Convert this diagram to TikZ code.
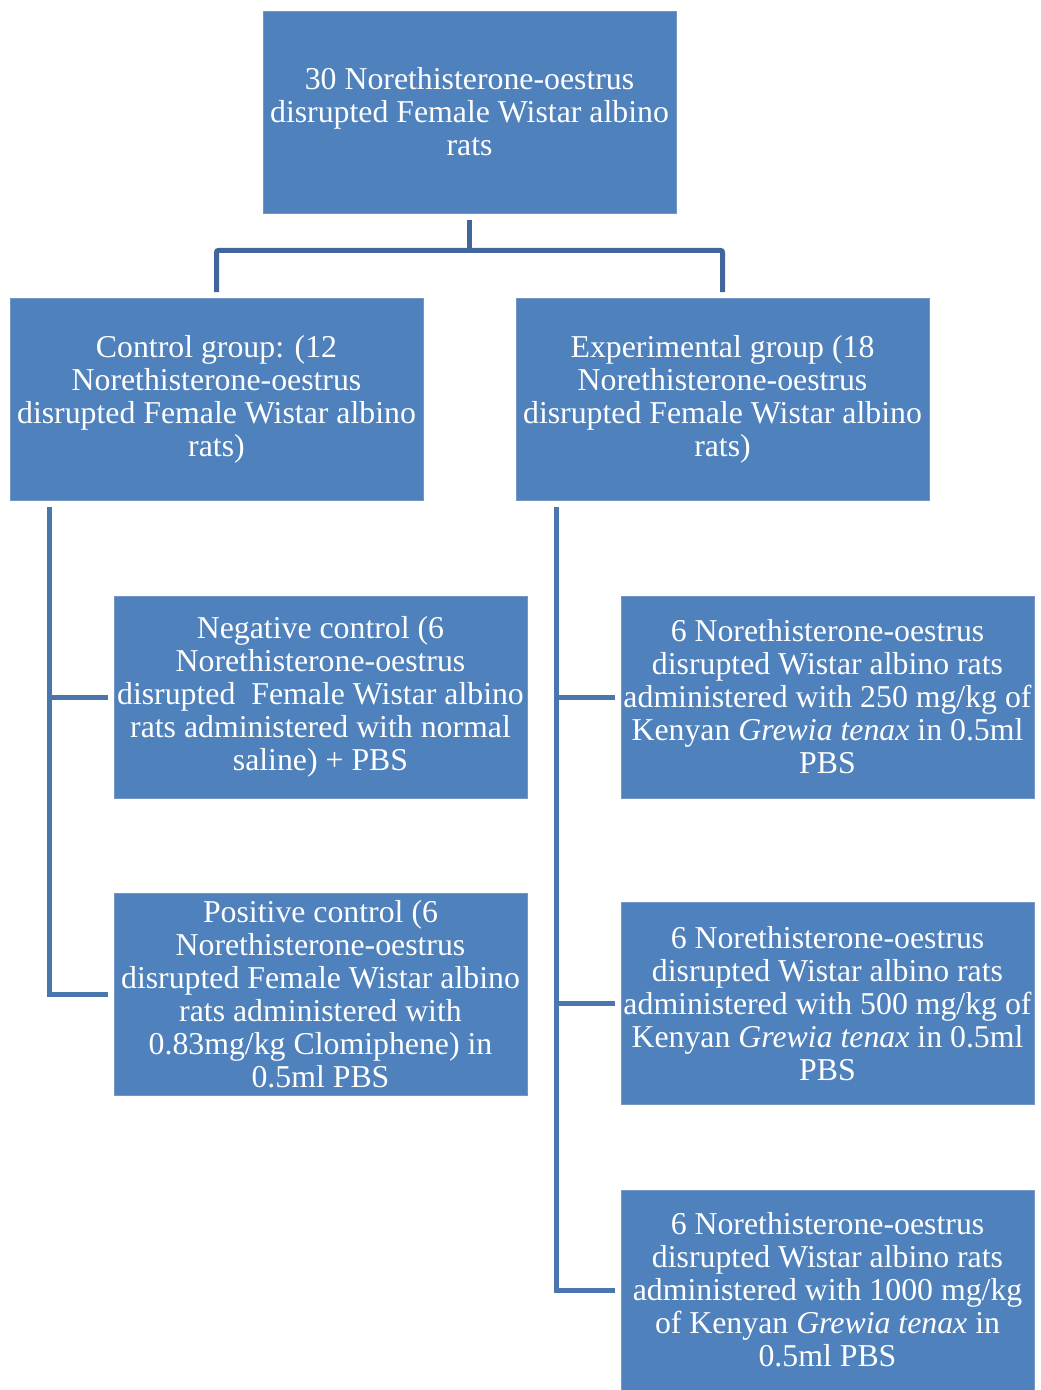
\documentclass[tikz,border=0pt]{standalone}
\usepackage{fontspec}
\setmainfont{Liberation Serif}
\definecolor{boxblue}{HTML}{4F81BD}
\definecolor{boxedge}{HTML}{7396C6}
\definecolor{treeblue}{HTML}{41679A}
\definecolor{linkblue}{HTML}{4A76AE}
\begin{document}
\begin{tikzpicture}[x=1pt,y=-1pt,
  gbox/.style={fill=boxblue,draw=boxedge,line width=0.8pt,minimum width=413pt,minimum height=202pt,inner sep=0pt,
    align=center,text=white,font=\fontsize{31.8}{33}\selectfont},
  treeline/.style={draw=treeblue,line width=5pt,rounded corners=2pt},
  linkline/.style={draw=linkblue,line width=5pt}]
\useasboundingbox (0,0) rectangle (1041,1390);
\node[gbox] (top) at (469.5,112) {30 Norethisterone-oestrus\\disrupted Female Wistar albino\\rats};
\node[gbox] (ctrl) at (216.5,399.5) {Control group: (12\\Norethisterone-oestrus\\disrupted Female Wistar albino\\rats)};
\node[gbox] (exp) at (722.5,399.5) {Experimental group (18\\Norethisterone-oestrus\\disrupted Female Wistar albino\\rats)};
\node[gbox] (neg) at (320.5,697) {Negative control (6\\Norethisterone-oestrus\\disrupted\ \ Female Wistar albino\\rats administered with normal\\saline) + PBS};
\node[gbox] (pos) at (320.5,994) {Positive control (6\\Norethisterone-oestrus\\disrupted Female Wistar albino\\rats administered with\\0.83mg/kg Clomiphene) in\\0.5ml PBS};
\node[gbox] (e1) at (827.5,697) {6 Norethisterone-oestrus\\disrupted Wistar albino rats\\administered with 250 mg/kg of\\Kenyan \textit{Grewia tenax} in 0.5ml\\PBS};
\node[gbox] (e2) at (827.5,1003.5) {6 Norethisterone-oestrus\\disrupted Wistar albino rats\\administered with 500 mg/kg of\\Kenyan \textit{Grewia tenax} in 0.5ml\\PBS};
\node[gbox,minimum height=200pt] (e3) at (827.5,1290) {6 Norethisterone-oestrus\\disrupted Wistar albino rats\\administered with 1000 mg/kg\\of Kenyan \textit{Grewia tenax} in\\0.5ml PBS};
% top tree
\coordinate (j) at ([yshift=-37pt]top.south);
\draw[treeline] ([yshift=-7pt]top.south) -- (j);
\draw[treeline] ([yshift=6pt]ctrl.north) |- (j) -| ([yshift=6pt]exp.north);
% control branch
\coordinate (lc) at (49,507);
\coordinate (lb) at (lc |- pos.west);
\draw[linkline] (lc) -- (lb) -- ([xshift=-6pt]pos.west);
\draw[linkline] (lc |- neg.west) -- ([xshift=-6pt]neg.west);
% experimental branch
\coordinate (rc) at (556,507);
\coordinate (rb) at (rc |- e3.west);
\draw[linkline] (rc) -- (rb) -- ([xshift=-6pt]e3.west);
\draw[linkline] (rc |- e1.west) -- ([xshift=-6pt]e1.west);
\draw[linkline] (rc |- e2.west) -- ([xshift=-6pt]e2.west);
\end{tikzpicture}
\end{document}
